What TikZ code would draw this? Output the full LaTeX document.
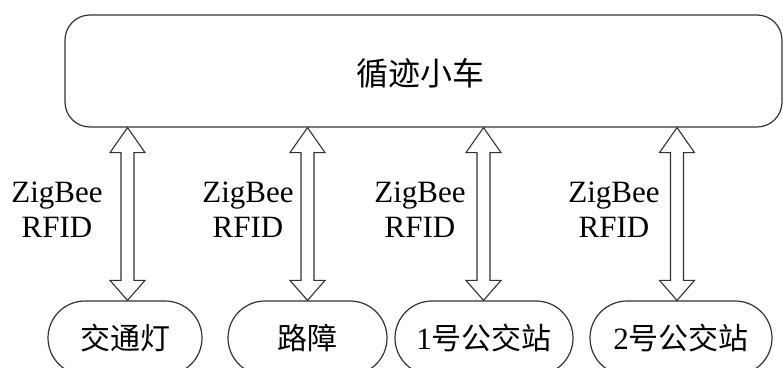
\documentclass[tikz,border=0pt]{standalone}
\usepackage{fontspec}
\setmainfont{Liberation Serif}
\newfontfamily\cjk{Noto Sans CJK SC}
\usetikzlibrary{calc}
\tikzset{
  box/.style={draw=black!80, line width=1.2pt, rounded corners=25pt, minimum width=717pt, minimum height=112pt, inner sep=0pt},
  stad/.style={draw=black!80, line width=1.2pt, rounded corners=37pt, minimum height=74pt, inner sep=0pt},
  arr/.style={draw=black!80, line width=1.1pt, line join=miter},
  lbl/.style={font=\fontsize{31}{35}\selectfont, align=center, inner sep=0pt},
  ctext/.style={font=\fontsize{30}{32}\selectfont\cjk}
}
\newcommand\hollowarrow[2]{%
  \draw[arr] (#1) -- ++(-17.5,25) -- ++(11,0) -- ($(#2)+(-6.5,-20)$) -- ++(-11,0) -- (#2)
    -- ++(17.5,-20) -- ++(-11,0) -- ($(#1)+(6.5,25)$) -- ++(11,0) -- cycle;}
\begin{document}
\begin{tikzpicture}[x=1pt,y=-1pt]
\useasboundingbox (0,0) rectangle (783,367);
\clip (0,0) rectangle (783,367);
\node[box] (car) at (423.5,71) {};
\node[font=\fontsize{32}{34}\selectfont\cjk] (cartext) at (420,73) {循迹小车};
\node[stad, minimum width=154pt] (n1) at (125,338) {};
\node[stad, minimum width=159pt] (n2) at (307.5,338) {};
\node[stad, minimum width=178pt] (n3) at (484,338) {};
\node[stad, minimum width=182pt] (n4) at (681,338) {};
\node[ctext] (t1) at (n1) {交通灯};
\node[ctext] (t2) at (n2) {路障};
\node[ctext] (t3) at (n3) {{\fontsize{31}{32}\rmfamily 1}号公交站};
\node[ctext] (t4) at (n4) {{\fontsize{31}{32}\rmfamily 2}号公交站};
\coordinate (a1t) at (n1.north -| 127.5,0);
\coordinate (a2t) at (n2.north -| 307.5,0);
\coordinate (a3t) at (n3.north -| 483.5,0);
\coordinate (a4t) at (n4.north -| 677,0);
\coordinate (c1) at (car.south -| 127.5,0);
\coordinate (c2) at (car.south -| 307.5,0);
\coordinate (c3) at (car.south -| 483.5,0);
\coordinate (c4) at (car.south -| 677,0);
\hollowarrow{c1}{a1t}
\hollowarrow{c2}{a2t}
\hollowarrow{c3}{a3t}
\hollowarrow{c4}{a4t}
\node[lbl] (l1) at (57,210) {ZigBee\\RFID};
\node[lbl] (l2) at (248,210) {ZigBee\\RFID};
\node[lbl] (l3) at (420,210) {ZigBee\\RFID};
\node[lbl] (l4) at (614,210) {ZigBee\\RFID};
\end{tikzpicture}
\end{document}
